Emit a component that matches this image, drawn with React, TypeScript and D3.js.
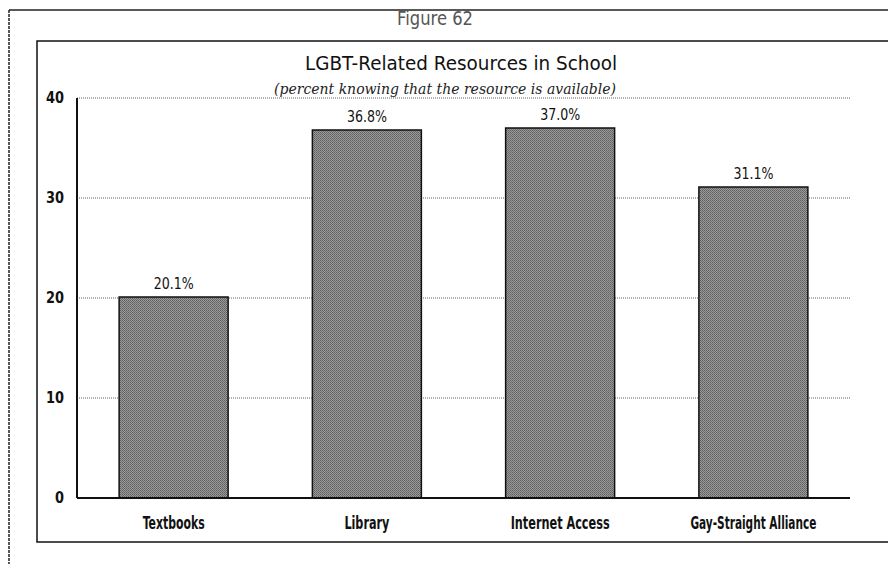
import React from "react";
import * as d3 from "d3";

const categories = ["Textbooks", "Library", "Internet Access", "Gay-Straight Alliance"];
const values = [20.1, 36.8, 37.0, 31.1];
const valueLabels = ["20.1%", "36.8%", "37.0%", "31.1%"];
const yTicks = [0, 10, 20, 30, 40];

// rendered text widths (layout only)
const categoryLabelWidths = [62, 45, 99, 126];
const valueLabelWidth = 40;

const W = 888;
const H = 564;
const FONT = "'DejaVu Sans', sans-serif";

export default function App() {
  const left = 77, right = 850, top = 98, bottom = 498;
  const x = d3.scaleBand<string>().domain(categories).range([left, right]).paddingInner(0.436).paddingOuter(0.218);
  const y = d3.scaleLinear().domain([0, 40]).range([bottom, top]);
  return (
    <svg width={W} height={H} style={{ position: "absolute", left: 0, top: 0, background: "#fff" }}>
      <defs>
        <pattern id="halftone" width="2" height="2" patternUnits="userSpaceOnUse">
          <rect width="2" height="2" fill="#9a9a9a" />
          <rect width="1" height="1" fill="#5e5e5e" />
          <rect x="1" y="1" width="1" height="1" fill="#6e6e6e" />
        </pattern>
      </defs>
      {/* outer frame */}
      <line x1={9} y1={10} x2={W} y2={10} stroke="#222" strokeWidth={1.5} />
      <line x1={9} y1={10} x2={9} y2={H} stroke="#222" strokeWidth={1.5} strokeDasharray="3 1" />
      <text x={435} y={25} textAnchor="middle" fontFamily={FONT} fontSize={20} fill="#555" textLength={76} lengthAdjust="spacingAndGlyphs">Figure 62</text>
      {/* inner box */}
      <rect x={37} y={41} width={W} height={501} fill="none" stroke="#111" strokeWidth={1.5} />
      <text x={461} y={70} textAnchor="middle" fontFamily={FONT} fontSize={20} fill="#111" textLength={312} lengthAdjust="spacingAndGlyphs">LGBT-Related Resources in School</text>
      <text x={445} y={94} textAnchor="middle" fontFamily="'DejaVu Serif', serif" fontStyle="italic" fontSize={14} fill="#222">(percent knowing that the resource is available)</text>
      {/* grid */}
      {yTicks.filter(t => t > 0).map(t => (
        <line key={t} x1={left} x2={right} y1={y(t)} y2={y(t)} stroke="#666" strokeWidth={1} strokeDasharray="1 1" />
      ))}
      {yTicks.map(t => (
        <text key={t} x={64} y={y(t) + 5} textAnchor="end" fontFamily={FONT} fontWeight="bold" fontSize={16} fill="#111" textLength={t === 0 ? 9 : 18} lengthAdjust="spacingAndGlyphs">{t}</text>
      ))}
      {/* bars */}
      {categories.map((c, i) => {
        const cx = (x(c) as number) + x.bandwidth() / 2;
        return (
          <g key={c}>
            <rect x={x(c)} y={y(values[i])} width={x.bandwidth()} height={y(0) - y(values[i])} fill="url(#halftone)" stroke="#111" strokeWidth={1.5} />
            <text x={cx} y={y(values[i]) - 8} textAnchor="middle" fontFamily={FONT} fontSize={16} fill="#111" textLength={valueLabelWidth} lengthAdjust="spacingAndGlyphs">{valueLabels[i]}</text>
            <text x={cx} y={529} textAnchor="middle" fontFamily={FONT} fontWeight="bold" fontSize={17} fill="#111" textLength={categoryLabelWidths[i]} lengthAdjust="spacingAndGlyphs">{c}</text>
          </g>
        );
      })}
      {/* axes */}
      <line x1={left} x2={left} y1={top} y2={bottom} stroke="#111" strokeWidth={2} />
      <line x1={left} x2={right} y1={bottom} y2={bottom} stroke="#111" strokeWidth={2} />
    </svg>
  );
}
